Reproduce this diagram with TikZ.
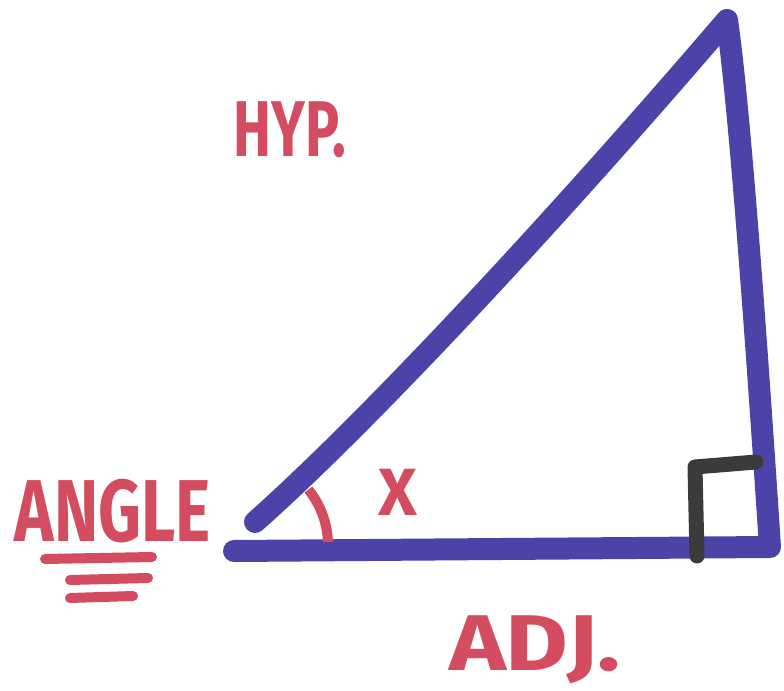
\documentclass[tikz,border=0pt]{standalone}
\usepackage{fontspec}
\setmainfont{Fira Sans}
\usetikzlibrary{positioning}
\definecolor{ink}{HTML}{4B43A8}
\definecolor{marker}{HTML}{D34C5F}
\definecolor{pencil}{HTML}{3B3B3B}
\newcommand{\lettering}[2]{\scalebox{#1}[1]{#2}}

\begin{document}
\begin{tikzpicture}[x=0.2mm,y=-0.2mm,
    side/.style={draw=ink,line width=4.4mm,line cap=round,line join=round},
    square/.style={draw=pencil,line width=3mm,line cap=round,line join=round},
    scribble/.style={font=\fontsize{45}{45}\selectfont\bfseries,text=marker,inner sep=0pt},
    underline/.style={draw=marker,line width=2mm,line cap=round}]
  \useasboundingbox (0,0) rectangle (784,691);
  % corners of the triangle
  \coordinate (base) at (234,551);
  \coordinate (corner) at (770,547);
  \coordinate (top) at (727,20);
  \coordinate (tail) at (255,522);
  % sides
  \draw[side] (tail) .. controls (370,420) and (560,215) .. (top)
    .. controls (740,110) and (757,350) .. (corner) -- (base);
  % right angle and angle x
  \draw[square] (697,556) -- (695,467) -- (756,462);
  \draw[marker,line width=2mm] (240,545) ++(-39:88) arc (-39:-2:88);
  % labels
  \node[scribble] (hyp) at (290,130) {\lettering{0.72}{HYP.}};
  \node[scribble,font=\fontsize{50}{50}\selectfont\bfseries] (angle) at (113,511) {\lettering{0.76}{ANGLE}};
  \node[scribble,font=\fontsize{38}{38}\selectfont\bfseries] (x) at (398,492) {X};
  \node[scribble] (adj) at (535,650) {\lettering{1.22}{ADJ.}};
  \foreach \l/\r/\y in {45/152/559, 70/148/580, 70/133/598}
    \draw[underline] (\l,\y) -- (\r,\y-2);
\end{tikzpicture}
\end{document}
